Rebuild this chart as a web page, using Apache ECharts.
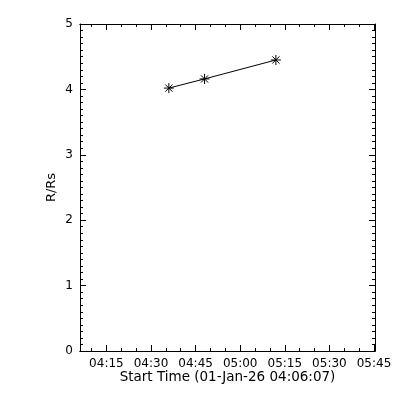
<!DOCTYPE html>
<html>
<head>
<meta charset="utf-8">
<script src="https://cdn.jsdelivr.net/npm/echarts@6/dist/echarts.min.js"></script>
<style>html,body{margin:0;padding:0;background:#fff;}#c{width:400px;height:400px;}</style>
</head>
<body>
<div id="c"></div>
<script>
// Data
var times = ["04:36:00", "04:48:00", "05:12:00"];
var heights = [4.02, 4.16, 4.45];
var xMajorLabels = ["04:15", "04:30", "04:45", "05:00", "05:15", "05:30", "05:45"];
var xMinorLabels = ["04:10","04:15","04:20","04:25","04:30","04:35","04:40","04:45","04:50","04:55","05:00","05:05","05:10","05:15","05:20","05:25","05:30","05:35","05:40","05:45"];
var xStart = "04:06:07";
var xEnd = "05:45:20";
var yTicks = [0, 1, 2, 3, 4, 5];

function toSec(s) {
  var p = s.split(":").map(Number);
  return p[0] * 3600 + p[1] * 60 + (p[2] || 0);
}
function fmt(v) {
  var h = Math.floor(v / 3600), m = Math.round((v - h * 3600) / 60);
  return (h < 10 ? "0" : "") + h + ":" + (m < 10 ? "0" : "") + m;
}
var xMin = toSec(xStart), xMax = toSec(xEnd);
var majorVals = xMajorLabels.map(toSec);
var minorVals = xMinorLabels.map(toSec);
var data = times.map(function (t, i) { return [toSec(t), heights[i]]; });

var font = "DejaVu Sans";
var lineStyle = { color: "#000", width: 1 };

function xAx(pos, vals, len, labels, extra) {
  var a = {
    type: "value", position: pos, min: xMin, max: xMax,
    axisLine: { show: true, onZero: false, lineStyle: lineStyle },
    axisTick: { show: true, inside: true, length: len, customValues: vals, lineStyle: lineStyle },
    axisLabel: labels ? { show: true, customValues: vals, formatter: fmt, color: "#000", fontFamily: font, fontSize: 12, margin: 7 } : { show: false },
    splitLine: { show: false }
  };
  if (extra) for (var k in extra) a[k] = extra[k];
  return a;
}
function yAx(pos, labels, extra) {
  var a = {
    type: "value", position: pos, min: yTicks[0], max: yTicks[yTicks.length - 1], interval: 1,
    axisLine: { show: true, onZero: false, lineStyle: lineStyle },
    axisTick: { show: true, inside: true, length: 6, lineStyle: lineStyle },
    minorTick: { show: true, splitNumber: 10, length: 3, lineStyle: lineStyle },
    axisLabel: labels ? { show: true, color: "#000", fontFamily: font, fontSize: 12, margin: 7 } : { show: false },
    splitLine: { show: false }, minorSplitLine: { show: false }
  };
  if (extra) for (var k in extra) a[k] = extra[k];
  return a;
}

var chart = echarts.init(document.getElementById("c"), null, { renderer: "canvas" });
chart.setOption({
  animation: false,
  backgroundColor: "#fff",
  grid: { left: 80, right: 25, top: 24, bottom: 49, containLabel: false },
  xAxis: [
    xAx("bottom", majorVals, 6, true, {
      name: "Start Time (01-Jan-26 " + xStart + ")", nameLocation: "middle", nameGap: 19,
      nameMoveOverlap: false,
      nameTextStyle: { color: "#000", fontFamily: font, fontSize: 13.5 }
    }),
    xAx("bottom", minorVals, 3, false),
    xAx("top", majorVals, 6, false),
    xAx("top", minorVals, 3, false)
  ],
  yAxis: [
    yAx("left", true, {
      name: "R/Rs", nameLocation: "middle", nameGap: 22, nameRotate: 90,
      nameMoveOverlap: false,
      nameTextStyle: { color: "#000", fontFamily: font, fontSize: 13 }
    }),
    yAx("right", false)
  ],
  series: [{
    type: "line",
    xAxisIndex: 0, yAxisIndex: 0,
    data: data,
    symbol: "path://M0,-5L0,5M-5,0L5,0M-3.6,-3.6L3.6,3.6M-3.6,3.6L3.6,-3.6",
    symbolSize: 10,
    itemStyle: { color: "#000", borderColor: "#000", borderWidth: 1 },
    lineStyle: { color: "#000", width: 1 },
    emphasis: { disabled: true }
  }]
});
</script>
</body>
</html>
